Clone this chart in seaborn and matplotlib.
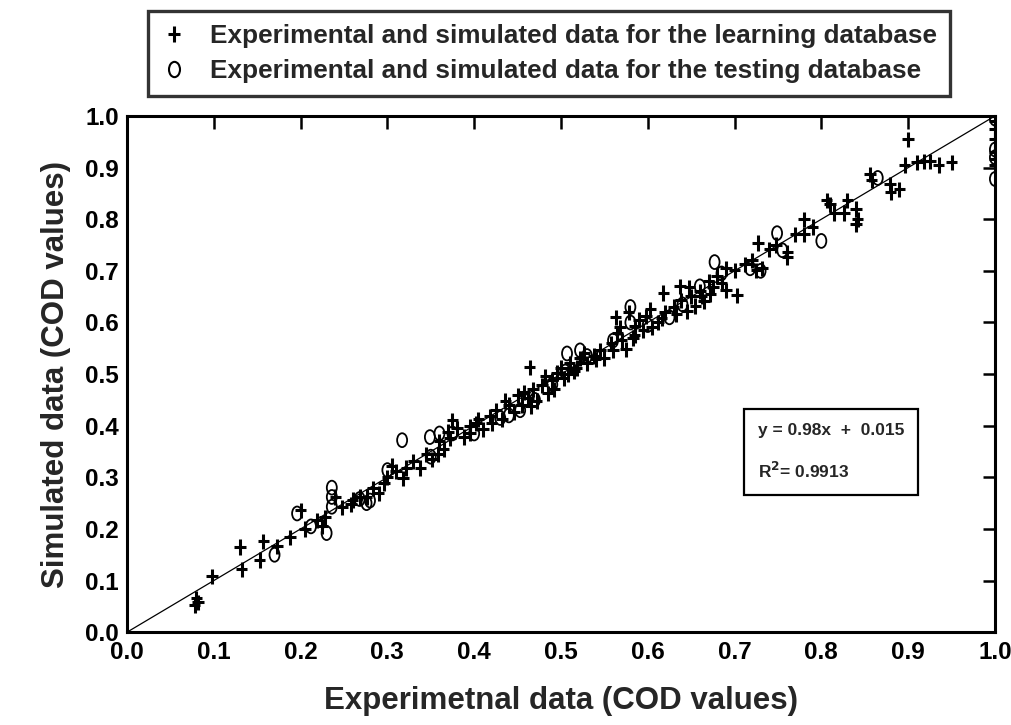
import numpy as np
import matplotlib
matplotlib.use("Agg")
import matplotlib.pyplot as plt
import seaborn as sns
import pandas as pd
from matplotlib.path import Path
from matplotlib.lines import Line2D

# ---------------- data ----------------
learn_x = [0.078, 0.080, 0.082, 0.098, 0.132, 0.130, 0.153, 0.157, 0.173, 0.188,
           0.200, 0.205, 0.219, 0.225, 0.240, 0.260, 0.268, 0.276, 0.283, 0.290,
           0.300, 0.305, 0.310, 0.318, 0.330, 0.338, 0.345, 0.352, 0.360, 0.365,
           0.370, 0.375, 0.380, 0.388, 0.395, 0.402, 0.410, 0.418, 0.425, 0.432,
           0.440, 0.446, 0.450, 0.455, 0.462, 0.468, 0.472, 0.478, 0.485, 0.490,
           0.495, 0.500, 0.503, 0.510, 0.515, 0.522, 0.530, 0.538, 0.545, 0.550,
           0.558, 0.565, 0.570, 0.575, 0.578, 0.585, 0.590, 0.598, 0.605, 0.612,
           0.620, 0.618, 0.630, 0.638, 0.645, 0.650, 0.637, 0.660, 0.665, 0.670,
           0.675, 0.680, 0.690, 0.700, 0.703, 0.712, 0.720, 0.727, 0.732, 0.740,
           0.748, 0.761, 0.770, 0.780, 0.790, 0.806, 0.810, 0.830, 0.826, 0.840,
           0.842, 0.840, 0.856, 0.858, 0.879, 0.880, 0.890, 0.900, 0.896, 0.910,
           0.918, 0.925, 0.935, 0.950, 1.000, 1.000, 1.000, 1.000, 1.000, 1.000,
           1.000, 0.420, 0.436, 0.458, 0.465, 0.482, 0.492, 0.508, 0.518, 0.527,
           0.560, 0.568, 0.583, 0.595, 0.603, 0.616, 0.633, 0.648, 0.662, 0.672,
           0.685, 0.358, 0.372, 0.395, 0.405, 0.322, 0.296, 0.258, 0.248, 0.228,
           0.464, 0.563, 0.690, 0.725, 0.761, 0.815, 0.780, 0.655, 0.585, 0.540]
learn_y = [0.052, 0.065, 0.058, 0.108, 0.122, 0.165, 0.140, 0.176, 0.166, 0.184,
           0.236, 0.200, 0.217, 0.205, 0.262, 0.256, 0.262, 0.262, 0.278, 0.268,
           0.300, 0.322, 0.312, 0.298, 0.330, 0.318, 0.345, 0.335, 0.370, 0.355,
           0.388, 0.410, 0.395, 0.378, 0.398, 0.405, 0.392, 0.418, 0.430, 0.412,
           0.440, 0.425, 0.458, 0.440, 0.452, 0.470, 0.448, 0.478, 0.462, 0.488,
           0.502, 0.512, 0.492, 0.520, 0.505, 0.530, 0.520, 0.535, 0.545, 0.530,
           0.560, 0.578, 0.565, 0.548, 0.620, 0.592, 0.605, 0.612, 0.590, 0.600,
           0.620, 0.657, 0.630, 0.642, 0.622, 0.650, 0.669, 0.660, 0.640, 0.680,
           0.668, 0.690, 0.662, 0.700, 0.653, 0.712, 0.720, 0.754, 0.705, 0.742,
           0.750, 0.735, 0.770, 0.800, 0.785, 0.837, 0.828, 0.837, 0.812, 0.820,
           0.800, 0.790, 0.886, 0.875, 0.868, 0.852, 0.858, 0.955, 0.905, 0.910,
           0.912, 0.912, 0.905, 0.910, 1.000, 0.990, 0.975, 0.955, 0.930, 0.915,
           0.905, 0.405, 0.448, 0.465, 0.438, 0.495, 0.470, 0.500, 0.512, 0.540,
           0.545, 0.590, 0.570, 0.585, 0.625, 0.608, 0.615, 0.668, 0.650, 0.655,
           0.675, 0.345, 0.375, 0.385, 0.412, 0.318, 0.288, 0.248, 0.242, 0.222,
           0.513, 0.610, 0.705, 0.700, 0.727, 0.812, 0.770, 0.632, 0.575, 0.528]

test_x = [0.170, 0.196, 0.236, 0.236, 0.236, 0.230, 0.276, 0.280, 0.317, 0.300,
          0.349, 0.360, 0.375, 0.400, 0.440, 0.453, 0.470, 0.507, 0.522, 0.530,
          0.505, 0.580, 0.580, 0.600, 0.625, 0.660, 0.677, 0.685, 0.718, 0.730,
          0.749, 0.755, 0.800, 0.865, 1.000, 1.000, 1.000, 1.000, 0.350, 0.430,
          0.490, 0.560, 0.640, 0.268, 0.212]
test_y = [0.150, 0.230, 0.280, 0.262, 0.243, 0.192, 0.250, 0.255, 0.372, 0.314,
          0.378, 0.385, 0.385, 0.385, 0.420, 0.430, 0.450, 0.540, 0.546, 0.535,
          0.505, 0.630, 0.600, 0.595, 0.610, 0.670, 0.717, 0.695, 0.705, 0.700,
          0.773, 0.740, 0.758, 0.880, 0.935, 0.920, 0.878, 0.995, 0.340, 0.415,
          0.480, 0.565, 0.635, 0.258, 0.205]

fit_x = [0.0, 1.0]
fit_y = [0.0, 1.0]

x_ticks = [0.0, 0.1, 0.2, 0.3, 0.4, 0.5, 0.6, 0.7, 0.8, 0.9, 1.0]
y_ticks = [0.0, 0.1, 0.2, 0.3, 0.4, 0.5, 0.6, 0.7, 0.8, 0.9, 1.0]

label_learn = "Experimental and simulated data for the learning database"
label_test = "Experimental and simulated data for the testing database"
x_label = "Experimetnal data (COD values)"
y_label = "Simulated data (COD values)"
eq_text = "y = 0.98x  +  0.015\nR$^2$= 0.9913"

# ---------------- style ----------------
sns.set_theme(style="white")
plt.rcParams["font.family"] = ["Liberation Sans", "DejaVu Sans"]
plt.rcParams["font.weight"] = "bold"
plt.rcParams["mathtext.default"] = "bf"

plus_path = Path([(0, -1.0), (0, 1.0), (-0.75, 0.05), (0.75, 0.05)],
                 [Path.MOVETO, Path.LINETO, Path.MOVETO, Path.LINETO])
circ = Path.unit_circle()
ellipse_path = Path(circ.vertices * np.array([0.72, 1.0]), circ.codes)

learn_df = pd.DataFrame({"x": learn_x, "y": learn_y})
test_df = pd.DataFrame({"x": test_x, "y": test_y})
fit_df = pd.DataFrame({"x": fit_x, "y": fit_y})

fig = plt.figure(figsize=(10.11, 7.25), dpi=100)
ax = fig.add_axes([0.1256, 0.128, 0.8585, 0.712])

sns.lineplot(data=fit_df, x="x", y="y", ax=ax, color="black", linewidth=0.9, zorder=1)
sns.scatterplot(data=learn_df, x="x", y="y", ax=ax, marker=plus_path, s=120,
                color="black", facecolor="none", edgecolor="black", linewidth=2.2, zorder=3)
sns.scatterplot(data=test_df, x="x", y="y", ax=ax, marker=ellipse_path, s=100,
                color="black", facecolor="none", edgecolor="black", linewidth=1.3, zorder=2)

ax.set_xlim(0, 1.0)
ax.set_ylim(0, 1.0)
ax.set_xticks(x_ticks)
ax.set_yticks(y_ticks)
ax.set_xticklabels([f"{t:.1f}" for t in x_ticks])
ax.set_yticklabels([f"{t:.1f}" for t in y_ticks])
ax.tick_params(direction="in", length=9, width=1.8, top=True, right=True,
               labelsize=17.5, pad=6, colors="black")
for sp in ax.spines.values():
    sp.set_linewidth(2.2)
    sp.set_color("black")
    sp.set_visible(True)

ax.set_xlabel(x_label, fontsize=22.5, fontweight="bold", labelpad=16)
ax.set_ylabel(y_label, fontsize=22.5, fontweight="bold", labelpad=10)

ax.text(0.727, 0.349, eq_text, transform=ax.transAxes, ha="left", va="center",
        fontsize=12.5, fontweight="bold", linespacing=2.3,
        bbox=dict(boxstyle="square,pad=0.8", facecolor="white", edgecolor="black", linewidth=1.6))

handles = [
    Line2D([], [], linestyle="none", marker=plus_path, markersize=12, markeredgewidth=2.2,
           color="black", markerfacecolor="none"),
    Line2D([], [], linestyle="none", marker=ellipse_path, markersize=11, markeredgewidth=1.5,
           color="black", markerfacecolor="none"),
]
leg = fig.legend(handles, [label_learn, label_test], loc="center",
                 bbox_to_anchor=(0.543, 0.926), frameon=True, fancybox=False,
                 handlelength=1.0, handletextpad=0.9, borderpad=0.5,
                 labelspacing=0.4, borderaxespad=0.0,
                 prop={"weight": "bold", "size": 18.8})
frame = leg.get_frame()
frame.set_edgecolor("black")
frame.set_linewidth(2.4)

fig.savefig("out.png", dpi=100, facecolor="white")
